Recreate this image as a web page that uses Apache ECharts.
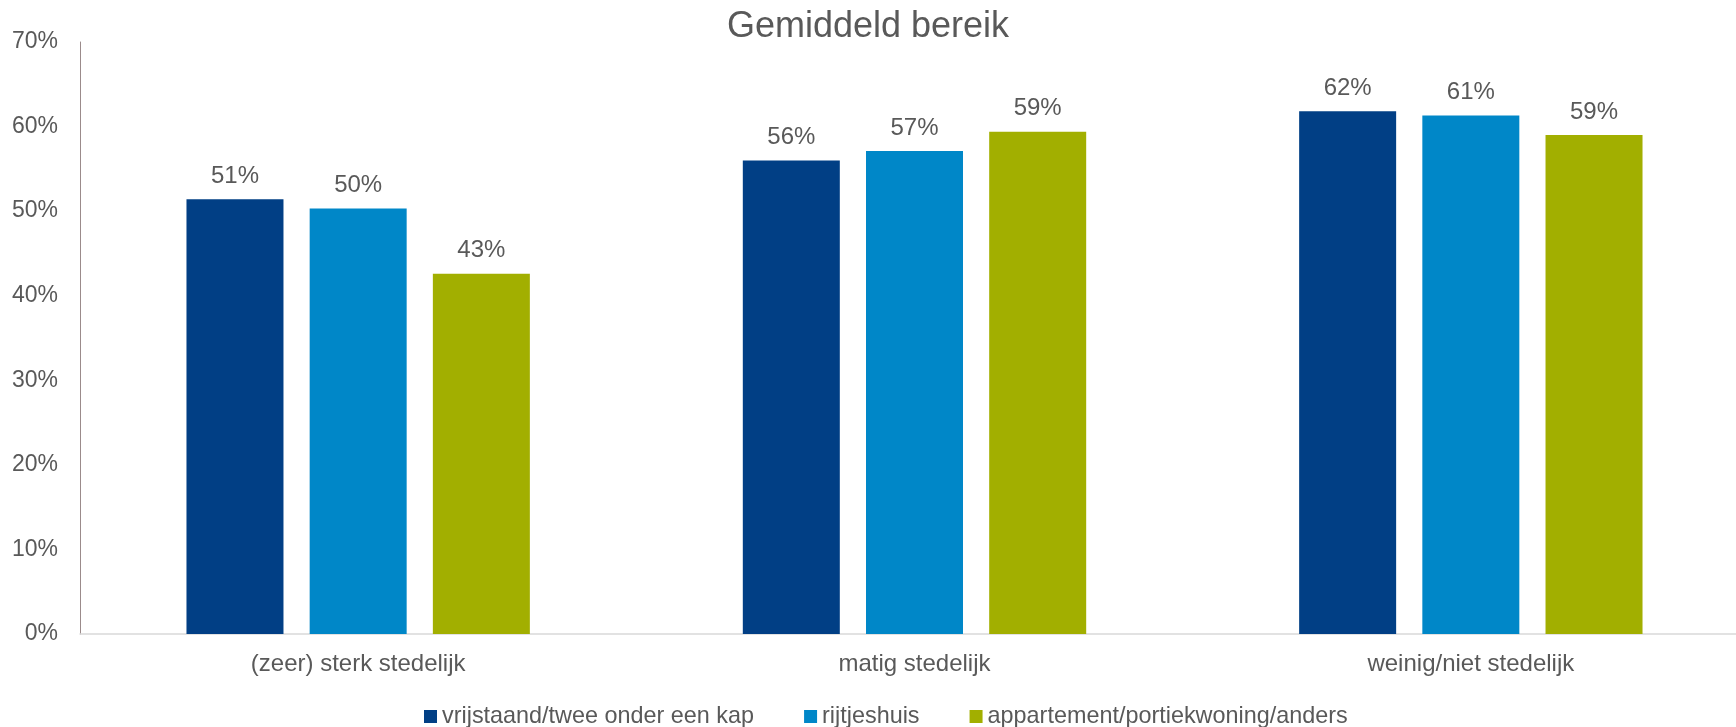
<!DOCTYPE html>
<html>
<head>
<meta charset="utf-8">
<script src="https://cdn.jsdelivr.net/npm/echarts@6/dist/echarts.min.js"></script>
<style>
html,body{margin:0;padding:0;background:#fff;}
#chart{width:1736px;height:727px;}
</style>
</head>
<body>
<div id="chart"></div>
<script>
const categories = ['(zeer) sterk stedelijk', 'matig stedelijk', 'weinig/niet stedelijk'];
const seriesNames = ['vrijstaand/twee onder een kap', 'rijtjeshuis', 'appartement/portiekwoning/anders'];
const vrijstaand = [51.4, 56.0, 61.8];
const rijtjeshuis = [50.3, 57.1, 61.3];
const appartement = [42.6, 59.4, 59.0];
const yTicks = [0, 10, 20, 30, 40, 50, 60, 70];
const colors = ['#013F85', '#0087C8', '#A2AF00'];

const chart = echarts.init(document.getElementById('chart'));
const font = 'Liberation Sans, Arial, sans-serif';
const textColor = '#595959';
const data = [vrijstaand, rijtjeshuis, appartement];

chart.setOption({
  animation: false,
  textStyle: { fontFamily: font },
  title: {
    text: 'Gemiddeld bereik',
    left: 'center',
    top: 4,
    textStyle: { fontFamily: font, fontSize: 36, fontWeight: 'normal', color: textColor }
  },
  legend: {
    data: seriesNames,
    left: 419,
    top: 700,
    icon: 'rect',
    itemWidth: 13,
    itemHeight: 13,
    itemGap: 50,
    textStyle: { fontFamily: font, fontSize: 23.4, color: textColor }
  },
  grid: { left: 80, width: 1669, top: 42, bottom: 93, containLabel: false, outerBoundsMode: 'none' },
  xAxis: {
    type: 'category',
    data: categories,
    axisTick: { show: false },
    axisLine: { lineStyle: { color: '#d9d9d9', width: 1.5 } },
    axisLabel: { fontFamily: font, fontSize: 24, color: textColor, margin: 18 }
  },
  yAxis: {
    type: 'value',
    min: yTicks[0],
    max: yTicks[yTicks.length - 1],
    interval: 10,
    splitLine: { show: false },
    axisTick: { show: false },
    axisLine: { show: true, lineStyle: { color: '#9b8b8b', width: 1 } },
    axisLabel: { fontFamily: font, fontSize: 23, color: textColor, margin: 22, formatter: '{value}%' }
  },
  series: seriesNames.map((name, i) => ({
    name: name,
    type: 'bar',
    data: data[i],
    barWidth: 97,
    barGap: '27%',
    itemStyle: { color: colors[i] },
    label: {
      show: true,
      position: 'top',
      distance: 11,
      fontFamily: font,
      fontSize: 24,
      color: textColor,
      formatter: p => Math.round(p.value) + '%'
    }
  }))
});
</script>
</body>
</html>
